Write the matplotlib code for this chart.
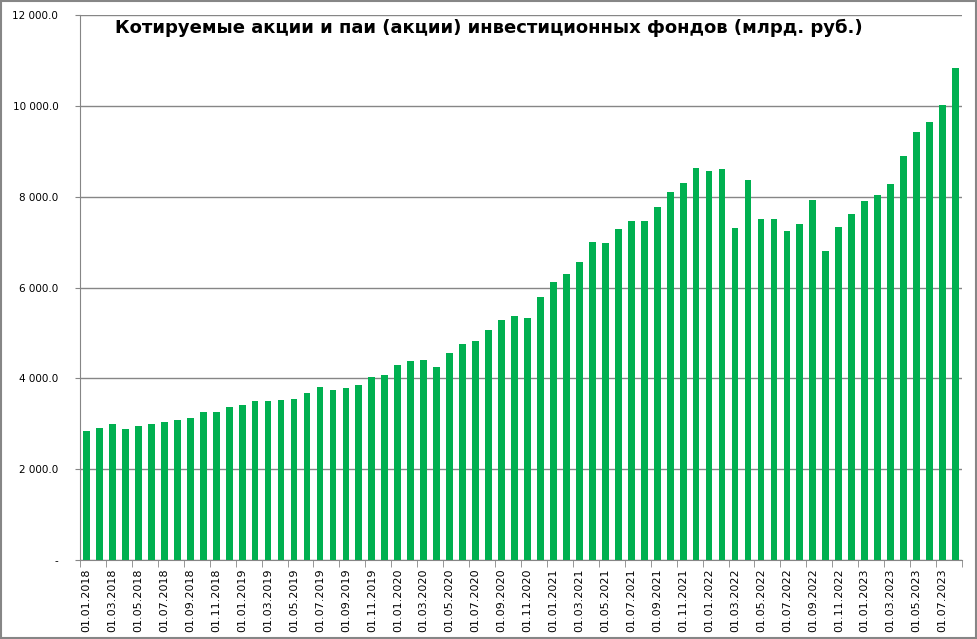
import numpy as np
import pandas as pd
import matplotlib
matplotlib.use("Agg")
import matplotlib.pyplot as plt
from matplotlib.ticker import FuncFormatter, FixedLocator

dates = pd.date_range("2018-01-01", periods=68, freq="MS").strftime("%d.%m.%Y").tolist()

values = [
    2842, 2916, 2996, 2886, 2952, 2996, 3040, 3084, 3128, 3260, 3260, 3370,
    3414, 3502, 3502, 3524, 3546, 3678, 3810, 3744, 3788, 3853, 4029, 4073,
    4293, 4381, 4403, 4249, 4557, 4755, 4821, 5062, 5282, 5370, 5326, 5788,
    6117, 6293, 6557, 6996, 6974, 7282, 7458, 7458, 7766, 8095, 8293, 8623,
    8557, 8601, 7304, 8359, 7502, 7502, 7238, 7392, 7919, 6799, 7326, 7612,
    7897, 8029, 8271, 8886, 9414, 9634, 10029, 10842,
]

title = "Котируемые акции и паи (акции) инвестиционных фондов (млрд. руб.)"

grey = "#868686"
green = "#00B050"

fig = plt.figure(figsize=(9.77, 6.39), dpi=100)
ax = fig.add_axes([80 / 977, 1 - 560 / 639, 882 / 977, 545 / 639])

x = np.arange(len(values))
ax.bar(x, values, width=0.52, color=green, zorder=3)

ax.set_xlim(-0.5, len(values) - 0.5)
ax.set_ylim(0, 12000)
ax.set_yticks(np.arange(0, 12001, 2000))
ax.yaxis.set_major_formatter(FuncFormatter(
    lambda v, p: "-" if v == 0 else f"{v:,.1f}".replace(",", " ")))
ax.grid(axis="y", color=grey, linewidth=1, zorder=0)

# labels on every second bar, tick marks between pairs
ax.set_xticks(x[::2])
ax.set_xticklabels(dates[::2], rotation=90, fontsize=8)
ax.xaxis.set_minor_locator(FixedLocator(np.arange(-0.5, len(values), 2)))
ax.tick_params(axis="x", which="major", length=0, pad=6)
ax.tick_params(axis="x", which="minor", length=5, color=grey)
ax.tick_params(axis="y", length=3.6, color=grey, labelsize=7.5, pad=12)

for s in ["top", "right"]:
    ax.spines[s].set_visible(False)
for s in ["left", "bottom"]:
    ax.spines[s].set_color(grey)

fig.text(0.5, 1 - 28 / 639, title, ha="center", va="center",
         fontsize=13, fontweight="bold")

fig.patches.append(plt.Rectangle((0.001, 0.001), 0.998, 0.997, transform=fig.transFigure,
                                 fill=False, edgecolor=grey, linewidth=1.5))

fig.savefig("out.png", dpi=100)
